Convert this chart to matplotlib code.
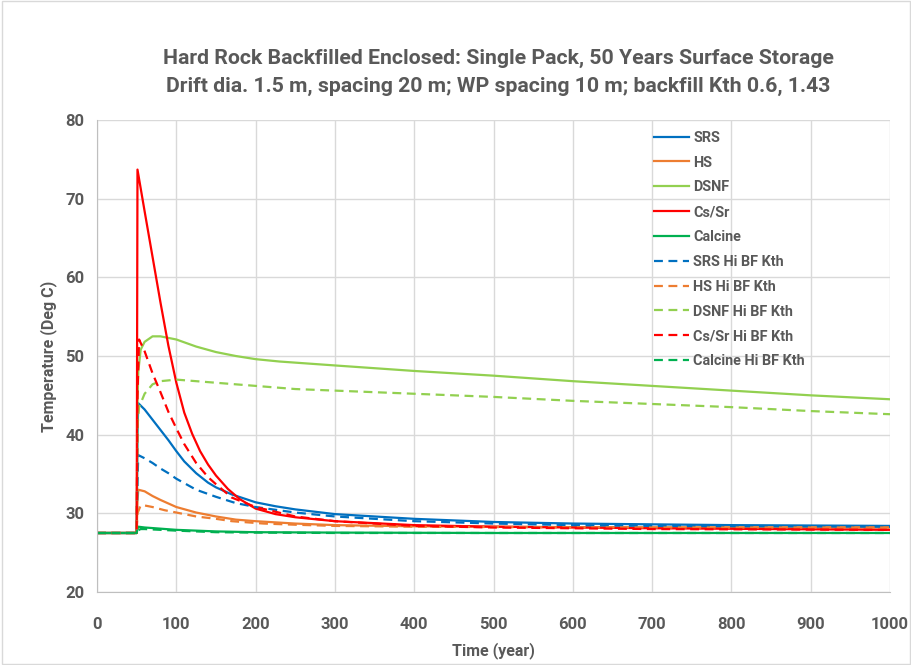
import matplotlib.pyplot as plt
from matplotlib.patches import Rectangle

# time axis points (years) and temperatures (deg C)
t_srs = [0, 50, 51, 52, 60, 70, 80, 90, 100, 110, 125, 140, 150, 170, 200, 225, 250, 300, 400, 500, 600, 700, 800, 900, 1000]
srs = [27.5, 27.5, 40.0, 44.0, 43.2, 41.9, 40.6, 39.3, 37.9, 36.6, 35.1, 33.9, 33.3, 32.4, 31.4, 30.9, 30.5, 29.9, 29.3, 28.9, 28.7, 28.6, 28.5, 28.45, 28.4]

t_hs = [0, 50, 51, 52, 60, 70, 80, 100, 125, 150, 175, 200, 250, 300, 400, 500, 600, 700, 800, 1000]
hs = [27.5, 27.5, 31.5, 33.0, 32.8, 32.2, 31.7, 30.8, 30.1, 29.6, 29.2, 29.0, 28.7, 28.5, 28.35, 28.3, 28.25, 28.2, 28.2, 28.2]

t_dsnf = [0, 50, 51, 52, 55, 60, 70, 80, 100, 125, 150, 175, 200, 230, 300, 400, 500, 600, 700, 800, 900, 1000]
dsnf = [27.5, 27.5, 44.0, 48.0, 50.8, 51.8, 52.5, 52.5, 52.1, 51.2, 50.5, 50.0, 49.6, 49.3, 48.8, 48.1, 47.5, 46.8, 46.2, 45.6, 45.0, 44.5]

t_cssr = [0, 50, 51, 60, 70, 80, 90, 100, 110, 120, 130, 140, 150, 165, 180, 200, 225, 250, 300, 400, 500, 700, 1000]
cssr = [27.5, 27.5, 73.7, 68.4, 62.6, 56.8, 51.3, 46.6, 42.8, 40.1, 37.9, 36.2, 34.8, 33.1, 31.8, 30.6, 29.9, 29.5, 29.0, 28.5, 28.3, 28.1, 27.9]

t_calc = [0, 50, 51, 52, 60, 100, 150, 200, 300, 500, 1000]
calc = [27.5, 27.5, 28.0, 28.3, 28.2, 27.9, 27.7, 27.6, 27.55, 27.5, 27.5]

t_srs_hi = [0, 50, 51, 52, 60, 70, 80, 90, 100, 125, 150, 175, 200, 250, 300, 400, 500, 600, 700, 1000]
srs_hi = [27.5, 27.5, 34.0, 37.4, 37.0, 36.4, 35.7, 35.1, 34.4, 33.0, 32.1, 31.3, 30.8, 30.1, 29.6, 29.0, 28.7, 28.5, 28.4, 28.3]

t_hs_hi = [0, 50, 51, 55, 60, 70, 85, 100, 125, 150, 170, 210, 250, 300, 400, 500, 700, 1000]
hs_hi = [27.5, 27.5, 30.0, 31.0, 31.0, 30.8, 30.4, 30.1, 29.6, 29.3, 29.0, 28.7, 28.55, 28.4, 28.3, 28.25, 28.2, 28.2]

t_dsnf_hi = [0, 50, 51, 53, 60, 70, 80, 100, 150, 200, 250, 300, 400, 500, 600, 700, 800, 900, 1000]
dsnf_hi = [27.5, 27.5, 41.0, 43.5, 45.2, 46.4, 46.8, 47.0, 46.6, 46.2, 45.8, 45.6, 45.2, 44.8, 44.3, 43.9, 43.5, 43.0, 42.6]

t_cssr_hi = [0, 50, 51, 53, 60, 70, 80, 90, 100, 110, 125, 140, 150, 170, 200, 250, 300, 400, 500, 700, 1000]
cssr_hi = [27.5, 27.5, 45.0, 52.1, 50.6, 47.8, 45.4, 42.9, 40.8, 38.8, 36.4, 34.6, 33.7, 32.0, 30.8, 29.6, 29.0, 28.4, 28.2, 28.0, 27.9]

t_calc_hi = [0, 50, 51, 55, 60, 100, 150, 200, 300, 500, 1000]
calc_hi = [27.5, 27.5, 27.8, 28.0, 28.0, 27.8, 27.6, 27.55, 27.5, 27.5, 27.5]

labels = ["SRS", "HS", "DSNF", "Cs/Sr", "Calcine",
          "SRS Hi BF Kth", "HS Hi BF Kth", "DSNF Hi BF Kth", "Cs/Sr Hi BF Kth", "Calcine Hi BF Kth"]
colors = ["#0070C0", "#ED7D31", "#92D050", "#FF0000", "#00B050"]

title = ("Hard Rock Backfilled Enclosed: Single Pack, 50 Years Surface Storage\n"
         "Drift dia. 1.5 m, spacing 20 m; WP spacing 10 m; backfill Kth 0.6, 1.43")

grey = "#595959"
plt.rcParams["font.family"] = ["Roboto", "DejaVu Sans"]
plt.rcParams["font.weight"] = "bold"

fig = plt.figure(figsize=(9.12, 6.65), dpi=100)
ax = fig.add_axes([0.1064, 0.1098, 0.8695, 0.7097])

solid = [(t_srs, srs), (t_hs, hs), (t_dsnf, dsnf), (t_cssr, cssr), (t_calc, calc)]
dashed = [(t_srs_hi, srs_hi), (t_hs_hi, hs_hi), (t_dsnf_hi, dsnf_hi), (t_cssr_hi, cssr_hi), (t_calc_hi, calc_hi)]

for (t, y), c, lab in zip(solid, colors, labels[:5]):
    ax.plot(t, y, color=c, lw=1.6, label=lab)
for (t, y), c, lab in zip(dashed, colors, labels[5:]):
    ax.plot(t, y, color=c, lw=1.6, ls=(0, (4, 2.5)), label=lab)

ax.set_xlim(0, 1000)
ax.set_ylim(20, 80)
ax.set_xticks(range(0, 1001, 100))
ax.set_yticks(range(20, 81, 10))
ax.grid(True, color="#d9d9d9", lw=1)
ax.set_axisbelow(True)
for side in ["top", "right"]:
    ax.spines[side].set_visible(False)
for side in ["left", "bottom"]:
    ax.spines[side].set_color("#bfbfbf")
ax.tick_params(length=0, labelsize=12, labelcolor=grey)
ax.tick_params(axis="x", pad=18)
ax.tick_params(axis="y", pad=9)
for lbl in ax.get_xticklabels() + ax.get_yticklabels():
    lbl.set_fontweight("bold")

ax.set_xlabel("Time (year)", fontsize=11.5, color=grey, fontweight="bold", labelpad=7)
ax.set_ylabel("Temperature (Deg C)", fontsize=11.5, color=grey, fontweight="bold", labelpad=6)

fig.text(0.546, 0.891, title, ha="center", va="center", fontsize=15.3, color=grey,
         fontweight="bold", linespacing=1.6)

leg = ax.legend(loc="upper left", bbox_to_anchor=(0.686, 1.005), frameon=False,
                fontsize=10.4, handlelength=2.4, labelspacing=0.75, handletextpad=0.3)
for txt in leg.get_texts():
    txt.set_color(grey)
    txt.set_fontweight("bold")

fig.patches.append(Rectangle((0.002, 0.002), 0.996, 0.996, transform=fig.transFigure,
                             fill=False, ec="#d9d9d9", lw=1))

fig.savefig("out.png", dpi=100)
